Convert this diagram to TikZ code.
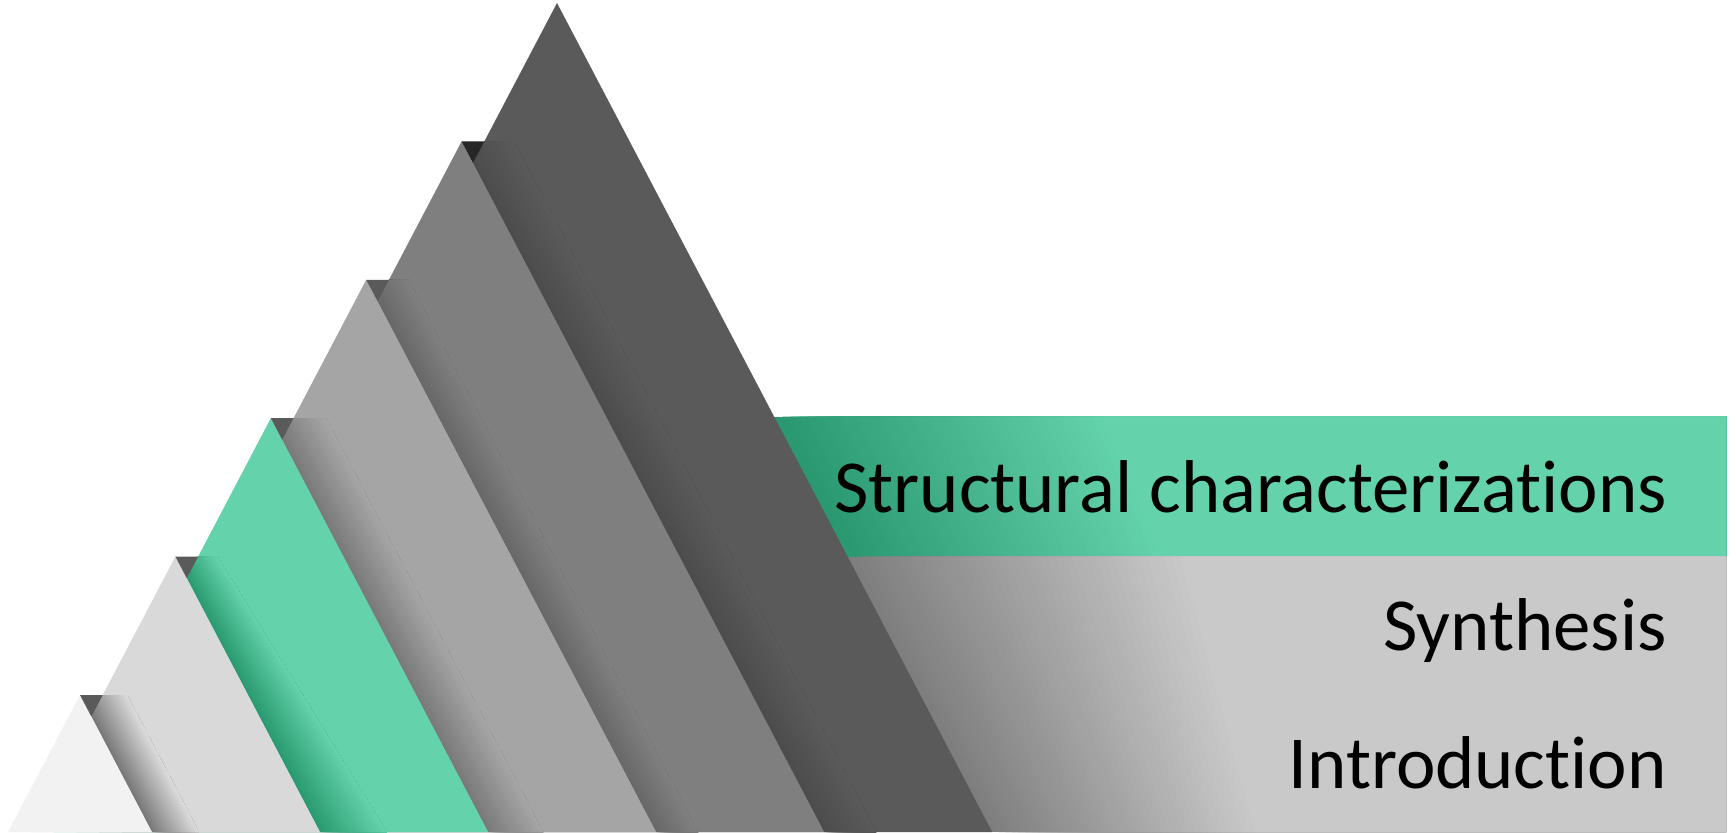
\documentclass[tikz,border=0pt]{standalone}
\usepackage{fontspec}
\setmainfont{Carlito}[Ligatures={NoCommon,NoContextual}]
\definecolor{L0}{HTML}{F2F2F2}
\definecolor{L1}{HTML}{D9D9D9}
\definecolor{L2}{HTML}{64D3AC}
\definecolor{L3}{HTML}{A5A5A5}
\definecolor{L4}{HTML}{7F7F7F}
\definecolor{L5}{HTML}{5A5A5A}
\definecolor{S1}{HTML}{787878}
\definecolor{S2}{HTML}{2A9A70}
\definecolor{S3}{HTML}{7A7A7A}
\definecolor{S4}{HTML}{686868}
\definecolor{S5}{HTML}{4C4C4C}
\definecolor{bandgray}{HTML}{C9C9C9}
\definecolor{banddark}{HTML}{7E7E7E}
\definecolor{greendark}{HTML}{2A9870}
\definecolor{tipdark}{HTML}{5A5A5A}
\definecolor{tipblack}{HTML}{262626}
\begin{document}
\begin{tikzpicture}[x=0.5pt,y=-0.5pt,
  lbl/.style={inner sep=0pt, anchor=base east, font=\fontsize{37.4}{40}\selectfont, text=black}]
\useasboundingbox (0,0) rectangle (1736,832);
\fill[white] (0,0) rectangle (1736,832);

% ---- green band (behind the mountains)
\fill[greendark] (700,416.7) rectangle (1726,556.6);
\foreach \i in {1,...,40} {
  \pgfmathsetmacro\p{100*\i/40}
  \pgfmathsetmacro\xt{774.4+(1100-774.4)*\i/40}
  \pgfmathsetmacro\xb{847.6+(1160-847.6)*\i/40}
  \fill[L2!\p!greendark] (\xt,416.7) -- (1726,416.7) -- (1726,556.6) -- (\xb,556.6) -- cycle;
}

% ---- gray bands
\fill[banddark] (700,556.6) rectangle (1726,832);
\foreach \i in {1,...,40} {
  \pgfmathsetmacro\p{100*\i/40}
  \pgfmathsetmacro\xt{847.6+(1180-847.6)*\i/40}
  \pgfmathsetmacro\xb{992.2+(1255-992.2)*\i/40}
  \fill[bandgray!\p!banddark] (\xt,556.6) -- (1726,556.6) -- (1726,832) -- (\xb,832) -- cycle;
}

% ---- mountain layers, back to front, each with the shadow cast by the layer in front
\foreach \k/\wt/\wb in {5/50/50,4/40/40,3/53/53,2/40/65,1/45/45,0/0/0} {
  \pgfmathsetmacro\ax{80+95.4*\k}
  \pgfmathsetmacro\ay{695-138.4*\k}
  \pgfmathsetmacro\hw{0.525*(832-\ay)}
  \fill[L\k] (\ax,\ay) -- (\ax-\hw,832) -- (\ax+\hw,832) -- cycle;
  \ifnum\k>0
    \begin{scope}
      \clip (\ax,\ay) -- (\ax-\hw,832) -- (\ax+\hw,832) -- cycle;
      \pgfmathsetmacro\bx{\ax-95.4}
      \pgfmathsetmacro\by{\ay+138.4}
      \pgfmathsetmacro\hb{0.525*(832-\by)}
      \foreach \i in {0,...,30} {
        \pgfmathsetmacro\p{100*\i/30}
        \fill[L\k!\p!S\k] (\bx+\wt*\i/30,\by) -- (\bx+\wt+2,\by)
          -- (\bx+\hb+\wb+2,832) -- (\bx+\hb+\wb*\i/30,832) -- cycle;
      }
    \end{scope}
  \fi
}

% ---- dark tips at the apexes
\foreach \k/\c in {0/tipdark,1/tipdark,2/tipdark,3/tipdark,4/tipblack} {
  \pgfmathsetmacro\ax{80+95.4*\k}
  \pgfmathsetmacro\ay{695-138.4*\k}
  \fill[\c] (\ax,\ay) -- (\ax+22.7,\ay) -- (\ax+11.35,\ay+21.6) -- cycle;
}

% ---- labels
\node[lbl] (struct) at (1667,512) {Structural characterizations};
\node[lbl] (synth) at (1667,650) {Synthesis};
\node[lbl] (intro) at (1667,788) {Introduction};
\end{tikzpicture}
\end{document}
